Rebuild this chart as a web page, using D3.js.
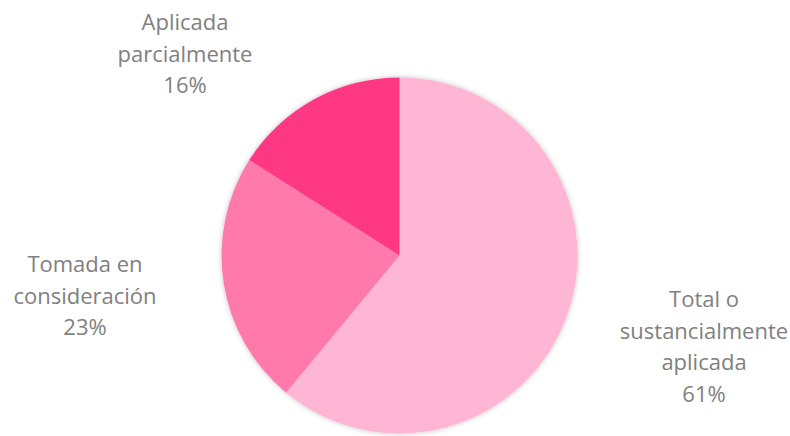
<!DOCTYPE html>
<html>
<head>
<meta charset="utf-8">
<script src="https://cdn.jsdelivr.net/npm/d3@7"></script>
<style>
  body { margin: 0; background: #fff; }
  text { font-family: "Open Sans", "Noto Sans", sans-serif; fill: #808080; }
</style>
</head>
<body>
<div class="chart"></div>
<script>
'use strict';

var categories = ['Total o sustancialmente aplicada', 'Tomada en consideración', 'Aplicada parcialmente'],
    labelLines = [['Total o', 'sustancialmente', 'aplicada'], ['Tomada en', 'consideración'], ['Aplicada', 'parcialmente']],
    values = [61, 23, 16],
    colors = ['#ffb6d4', '#ff7aaa', '#ff3784'];

var width = 790,
    height = 436,
    cx = 399.5,
    cy = 255.5,
    radius = 178,
    lineHeight = 31.5,
    // label block centre x and first baseline y
    labelPos = [[704, 307], [85, 272], [185, 30]];

var svg = d3.select('.chart').append('svg').attr('width', width).attr('height', height);

var defs = svg.append('defs');
var shadow = defs.append('filter').attr('id', 'shadow').attr('x', '-10%').attr('y', '-10%').attr('width', '120%').attr('height', '120%');
shadow.append('feDropShadow').attr('dx', 0).attr('dy', 0).attr('stdDeviation', 2.5)
  .attr('flood-color', '#000').attr('flood-opacity', 0.25);

var pie = d3.pie().sort(null).value(function (d) { return d; }),
    arc = d3.arc().innerRadius(0).outerRadius(radius);

var g = svg.append('g').attr('transform', 'translate(' + cx + ',' + cy + ')').attr('filter', 'url(#shadow)');

g.selectAll('path').data(pie(values)).enter().append('path')
  .attr('d', arc)
  .attr('fill', function (d, i) { return colors[i]; });

var labels = svg.append('g').selectAll('text').data(categories).enter().append('text')
  .attr('text-anchor', 'middle')
  .attr('font-size', 22)
  .attr('x', function (d, i) { return labelPos[i][0]; })
  .attr('y', function (d, i) { return labelPos[i][1]; });

labels.each(function (d, i) {
  var t = d3.select(this),
      lines = labelLines[i].concat([values[i] + '%']);
  lines.forEach(function (l, j) {
    t.append('tspan').attr('x', labelPos[i][0]).attr('y', labelPos[i][1] + j * lineHeight).text(l);
  });
});
</script>
</body>
</html>
